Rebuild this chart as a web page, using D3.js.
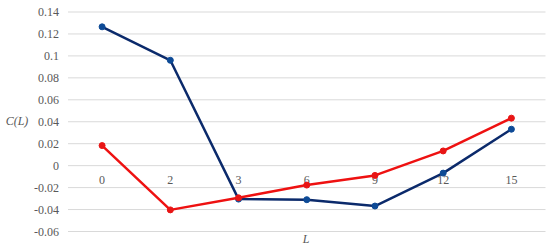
<!DOCTYPE html>
<html><head><meta charset="utf-8">
<script src="https://cdn.jsdelivr.net/npm/d3@7"></script>
<style>body{margin:0;background:#fff}svg{display:block}</style>
</head><body><svg id="c" width="550" height="246"></svg>
<script>
const categories = ["0","2","3","6","9","12","15"];
const seriesBlue = [0.1265, 0.096, -0.0305, -0.031, -0.0368, -0.0068, 0.0332];
const seriesRed = [0.0183, -0.0403, -0.0293, -0.0177, -0.0089, 0.0134, 0.0433];
const yTicks = [-0.06,-0.04,-0.02,0,0.02,0.04,0.06,0.08,0.1,0.12,0.14];
const yTickLabels = ["-0.06","-0.04","-0.02","0","0.02","0.04","0.06","0.08","0.1","0.12","0.14"];

const FONT = "Tinos, 'Liberation Serif', 'Noto Serif', 'DejaVu Serif', Times, 'Times New Roman', serif";
const svg = d3.select("#c");
const x = d3.scalePoint().domain(categories).range([68,545.5]).padding(0.5);
const y = d3.scaleLinear().domain([-0.06,0.14]).range([231.5,12]);

svg.append("g").selectAll("line").data(yTicks).join("line")
  .attr("x1",68).attr("x2",545.5)
  .attr("y1",d=>y(d)).attr("y2",d=>y(d))
  .attr("stroke","#d9d9d9").attr("stroke-width",1);

svg.append("g").selectAll("text").data(yTicks).join("text")
  .attr("x",59).attr("y",d=>y(d)).attr("dy","0.35em")
  .attr("text-anchor","end").attr("font-size",12).attr("fill","#595959")
  .attr("font-family",FONT)
  .text((d,i)=>yTickLabels[i]);

svg.append("g").selectAll("text").data(categories).join("text")
  .attr("x",d=>x(d)).attr("y",y(0)+14).attr("dy","0.35em")
  .attr("text-anchor","middle").attr("font-size",12).attr("fill","#595959")
  .attr("font-family",FONT)
  .text(d=>d);

const line = d3.line().x((d,i)=>x(categories[i])).y(d=>y(d));
function drawSeries(vals, lc, mc){
  svg.append("path").datum(vals).attr("d",line)
    .attr("fill","none").attr("stroke",lc).attr("stroke-width",2.5).attr("stroke-linejoin","round");
  svg.append("g").selectAll("circle").data(vals).join("circle")
    .attr("cx",(d,i)=>x(categories[i])).attr("cy",d=>y(d)).attr("r",3)
    .attr("fill",mc).attr("stroke",mc);
}
drawSeries(seriesBlue,"#0b2a6b","#0d4a96");
drawSeries(seriesRed,"#ee1111","#e81515");

svg.append("text").attr("x",17).attr("y",121).attr("dy","0.35em")
  .attr("text-anchor","middle").attr("font-size",12).attr("font-style","italic").attr("fill","#595959")
  .attr("font-family",FONT)
  .text("C(L)");
svg.append("text").attr("x",306).attr("y",239).attr("dy","0.35em")
  .attr("text-anchor","middle").attr("font-size",12).attr("font-style","italic").attr("fill","#595959")
  .attr("font-family",FONT)
  .text("L");
</script></body></html>
